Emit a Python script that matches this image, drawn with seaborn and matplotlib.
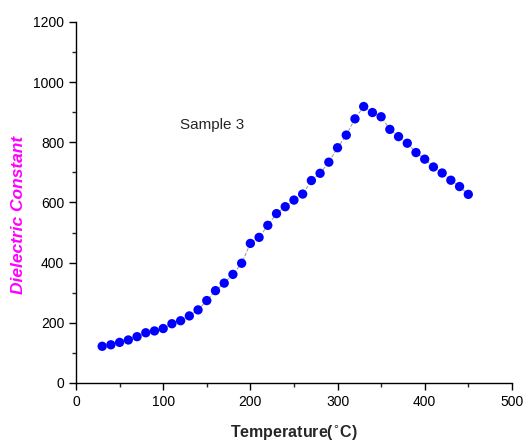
import matplotlib
matplotlib.use("Agg")
import matplotlib.pyplot as plt
import pandas as pd
import numpy as np
import seaborn as sns
from matplotlib.ticker import MultipleLocator

# data
temperature = [30, 40, 50, 60, 70, 80, 90, 100, 110, 120, 130, 140, 150, 160,
               170, 180, 190, 200, 210, 220, 230, 240, 250, 260, 270, 280,
               290, 300, 310, 320, 330, 340, 350, 360, 370, 380, 390, 400,
               410, 420, 430, 440, 450]
dielectric = [122, 127, 135, 143, 154, 167, 173, 181, 197, 207, 223, 243, 274,
              307, 332, 361, 398, 464, 484, 524, 563, 586, 608, 628, 673, 697,
              734, 782, 824, 878, 919, 899, 885, 843, 819, 797, 766, 744, 718,
              698, 674, 653, 627]

df = pd.DataFrame({"Temperature": temperature, "Dielectric": dielectric})

sns.set_style("ticks")
plt.rcParams['font.family'] = ['Liberation Sans', 'DejaVu Sans']

fig = plt.figure(figsize=(5.25, 4.44), dpi=100)
ax = fig.add_axes([0.1448, 0.1374, 0.8302, 0.8131])

sns.lineplot(x="Temperature", y="Dielectric", data=df, ax=ax,
             color="#999999", lw=0.7, linestyle="--")
sns.scatterplot(x="Temperature", y="Dielectric", data=df, ax=ax,
                color="#0000ff", s=45, edgecolor="none", zorder=3)

ax.set_xlim(0, 500)
ax.set_ylim(0, 1200)
ax.xaxis.set_major_locator(MultipleLocator(100))
ax.xaxis.set_minor_locator(MultipleLocator(50))
ax.yaxis.set_major_locator(MultipleLocator(200))
ax.yaxis.set_minor_locator(MultipleLocator(100))
ax.tick_params(which="major", length=5, width=1, labelsize=10, colors="black")
ax.tick_params(which="minor", length=3, width=1)

for s in ["top", "right"]:
    ax.spines[s].set_visible(False)
for s in ["left", "bottom"]:
    ax.spines[s].set_linewidth(1)
    ax.spines[s].set_color("black")

ax.set_xlabel("Temperature($^{\\circ}$C)", fontsize=11.5, fontweight="bold", labelpad=10)
ax.set_ylabel("Dielectric Constant", fontsize=12.5, fontweight="bold",
              style="italic", color="#ff00ff")
ax.yaxis.set_label_coords(-0.115, 0.465)

ax.text(119, 858, "Sample 3", fontsize=11, va="center")

fig.savefig("out.png", dpi=100)
